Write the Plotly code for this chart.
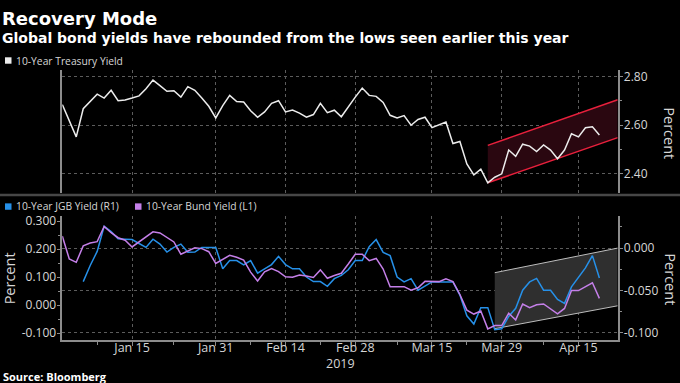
import pandas as pd
import plotly.graph_objects as go

# ---------------- data ----------------
dates = pd.bdate_range("2019-01-01", "2019-04-18")

treasury = [2.685, 2.62, 2.552, 2.668, 2.698, 2.728, 2.712, 2.744, 2.701, 2.704,
            2.712, 2.721, 2.75, 2.786, 2.763, 2.74, 2.742, 2.716, 2.759, 2.744,
            2.712, 2.678, 2.63, 2.681, 2.723, 2.698, 2.696, 2.66, 2.633, 2.655,
            2.69, 2.701, 2.655, 2.663, 2.65, 2.633, 2.644, 2.69, 2.652, 2.662,
            2.635, 2.678, 2.716, 2.753, 2.723, 2.719, 2.694, 2.641, 2.63, 2.64,
            2.60, 2.624, 2.633, 2.59, 2.603, 2.613, 2.525, 2.533, 2.441, 2.396,
            2.419, 2.363, 2.386, 2.40, 2.498, 2.472, 2.522, 2.514, 2.492, 2.519,
            2.498, 2.462, 2.498, 2.565, 2.552, 2.59, 2.594, 2.56]

bund = [0.247, 0.165, 0.153, 0.212, 0.222, 0.227, 0.281, 0.259, 0.241, 0.232,
        0.208, 0.225, 0.244, 0.262, 0.258, 0.241, 0.226, 0.182, 0.194, 0.205,
        0.202, 0.191, 0.149, 0.165, 0.178, 0.171, 0.161, 0.118, 0.086, 0.119,
        0.131, 0.12, 0.101, 0.10, 0.108, 0.104, 0.099, 0.126, 0.096, 0.106,
        0.114, 0.147, 0.182, 0.182, 0.159, 0.167, 0.129, 0.066, 0.066, 0.066,
        0.053, 0.062, 0.085, 0.084, 0.084, 0.094, 0.084, 0.038, -0.018, -0.032,
        -0.021, -0.085, -0.073, -0.073, -0.029, -0.053, 0.004, -0.009, 0.001, 0.004,
        -0.013, -0.031, -0.012, 0.052, 0.052, 0.066, 0.08, 0.024]

jgb = [None, None, None, -0.0395, -0.0205, -0.0039, 0.0256, 0.0194, 0.0109, 0.0105,
       0.0101, 0.0054, 0.0008, 0.0105, 0.0047, -0.0047, 0.0008, 0.0047, -0.005, -0.0047,
       0.0008, 0.0008, 0.0008, -0.0244, -0.0147, -0.0147, -0.0198, -0.0147, -0.0295, -0.0244,
       -0.0194, -0.0097, -0.0194, -0.0244, -0.0244, -0.0341, -0.0395, -0.0395, -0.045, -0.036,
       -0.0322, -0.0256, -0.0147, -0.0147, 0.0016, 0.0101, -0.005, -0.0089, -0.0341, -0.0399,
       -0.036, -0.0496, -0.045, -0.0399, -0.0399, -0.0399, -0.0399, -0.0554, -0.0798, -0.0895,
       -0.0702, -0.0702, -0.0961, -0.095, -0.0806, -0.0709, -0.0496, -0.0399, -0.0357, -0.0496,
       -0.0496, -0.0605, -0.0651, -0.0457, -0.0341, -0.0233, -0.0089, -0.0353]

tick_dates = ["2019-01-15", "2019-01-31", "2019-02-14", "2019-02-28",
              "2019-03-15", "2019-03-29", "2019-04-15"]
tick_labels = ["Jan 15", "Jan 31", "Feb 14", "Feb 28", "Mar 15", "Mar 29", "Apr 15"]
minor_dates = ["2019-01-08", "2019-01-23", "2019-02-07", "2019-02-21",
               "2019-03-08", "2019-03-22", "2019-04-08"]
x_range = ["2019-01-01", "2019-04-22 15:00"]

top_ticks = [2.40, 2.60, 2.80]
top_minor = [2.50, 2.70]
left_ticks = [-0.1, 0.0, 0.1, 0.2, 0.3]
left_minor = [-0.05, 0.05, 0.15, 0.25]
right_ticks = [-0.1, -0.05, 0.0]
right_minor = [-0.075, -0.025, 0.025]

red_channel_x = ["2019-03-27", "2019-04-22 15:00"]
red_upper = [2.517, 2.705]
red_lower = [2.363, 2.549]
gray_channel_x = ["2019-03-28", "2019-04-22 15:00"]
gray_upper = [-0.029, 0.000]
gray_lower = [-0.095, -0.068]

# ---------------- style ----------------
W, H = 680, 383
FONT = "Open Sans"
TFONT = "DejaVu Sans"
C_TREAS = "#ececec"
C_JGB = "#2690e8"
C_BUND = "#c47fe8"
C_RED = "#e8203c"
C_REDFILL = "#2a0710"
C_GRAYLINE = "#bdbdbd"
C_GRAYFILL = "#2f2f2f"
C_GRID = "#5c5c5c"
C_AXIS = "#8c8c8c"
C_TXT = "#d6d6d6"


def px(x):
    return x / W


def py(y):
    return 1 - y / H


XDOM = [px(62.3), px(617.7)]
TOP_DOM = [py(192), py(67)]
BOT_DOM = [py(340.5), py(215)]

fig = go.Figure()

# top channel
fig.add_trace(go.Scatter(x=red_channel_x + red_channel_x[::-1], y=red_upper + red_lower[::-1],
                         fill="toself", fillcolor=C_REDFILL, line=dict(width=0),
                         mode="lines", xaxis="x", yaxis="y", hoverinfo="skip", showlegend=False))
for ys in (red_upper, red_lower):
    fig.add_trace(go.Scatter(x=red_channel_x, y=ys, mode="lines", line=dict(color=C_RED, width=1.5),
                             xaxis="x", yaxis="y", showlegend=False))
fig.add_trace(go.Scatter(x=dates, y=treasury, mode="lines", line=dict(color=C_TREAS, width=1.5),
                         xaxis="x", yaxis="y", name="10-Year Treasury Yield", showlegend=False))

# bottom panel: y2 = right axis (JGB, base layer), y3 = left axis (Bund, overlay)
fig.add_trace(go.Scatter(x=gray_channel_x + gray_channel_x[::-1], y=gray_upper + gray_lower[::-1],
                         fill="toself", fillcolor=C_GRAYFILL, line=dict(width=0),
                         mode="lines", xaxis="x2", yaxis="y2", hoverinfo="skip", showlegend=False))
for ys in (gray_upper, gray_lower):
    fig.add_trace(go.Scatter(x=gray_channel_x, y=ys, mode="lines", line=dict(color=C_GRAYLINE, width=1),
                             xaxis="x2", yaxis="y2", showlegend=False))
fig.add_trace(go.Scatter(x=dates, y=jgb, mode="lines", line=dict(color=C_JGB, width=1.5),
                         xaxis="x2", yaxis="y2", name="10-Year JGB Yield (R1)", showlegend=False))
fig.add_trace(go.Scatter(x=dates, y=bund, mode="lines", line=dict(color=C_BUND, width=1.5),
                         xaxis="x2", yaxis="y3", name="10-Year Bund Yield (L1)", showlegend=False))

tickfont = dict(family=FONT, size=12, color=C_TXT)
xcommon = dict(type="date", range=x_range, rangebreaks=[dict(bounds=["sat", "mon"])],
               tickvals=tick_dates, ticktext=tick_labels, showgrid=True, gridcolor=C_GRID,
               griddash="dot", gridwidth=1, zeroline=False, domain=XDOM)

fig.update_layout(
    width=W, height=H, autosize=False,
    margin=dict(l=0, r=0, t=0, b=0),
    paper_bgcolor="black", plot_bgcolor="black",
    showlegend=False,
    xaxis=dict(**xcommon, anchor="y", showticklabels=False, ticks="", showline=False),
    yaxis=dict(domain=TOP_DOM, anchor="x", side="right", range=[2.319, 2.827],
               tickvals=top_ticks, ticktext=[f"{v:.2f}" for v in top_ticks],
               ticks="outside", ticklen=4, tickcolor=C_AXIS, tickfont=tickfont,
               ticklabelstandoff=-2,
               showline=True, linecolor=C_AXIS, linewidth=1.5, mirror=True,
               showgrid=True, gridcolor=C_GRID, griddash="dot", zeroline=False,
               minor=dict(tickvals=top_minor, ticks="outside", ticklen=3, tickcolor=C_AXIS, showgrid=False)),
    xaxis2=dict(**xcommon, anchor="y2", showticklabels=True, ticks="outside", ticklen=4,
                tickcolor=C_AXIS, tickfont=dict(family=FONT, size=12.5, color=C_TXT),
                ticklabelstandoff=-9,
                showline=True, linecolor=C_AXIS, linewidth=1.5,
                minor=dict(tickvals=minor_dates, ticks="outside", ticklen=3, tickcolor=C_AXIS, showgrid=False)),
    yaxis2=dict(domain=BOT_DOM, anchor="x2", side="right", range=[-0.1084, 0.0376],
                tickvals=right_ticks, ticktext=[f"{v:.3f}" for v in right_ticks],
                ticks="outside", ticklen=4, tickcolor=C_AXIS, tickfont=tickfont,
                ticklabelstandoff=-2,
                showline=True, linecolor=C_AXIS, linewidth=1.5,
                showgrid=True, gridcolor=C_GRID, griddash="dot", zeroline=False,
                minor=dict(tickvals=right_minor, ticks="outside", ticklen=3, tickcolor=C_AXIS, showgrid=False)),
    yaxis3=dict(overlaying="y2", anchor="x2", side="left", range=[-0.125, 0.318],
                tickvals=left_ticks, ticktext=[f"{v:.3f}" for v in left_ticks],
                ticks="outside", ticklen=4, tickcolor=C_AXIS, tickfont=tickfont,
                ticklabelstandoff=-2,
                showline=True, linecolor=C_AXIS, linewidth=1.5, showgrid=False, zeroline=False,
                minor=dict(tickvals=left_minor, ticks="outside", ticklen=3, tickcolor=C_AXIS, showgrid=False)),
)

ann = []


def text(x, y, s, size, color=C_TXT, bold=False, angle=0, xanchor="left", family=FONT):
    ann.append(dict(x=px(x), y=py(y), xref="paper", yref="paper", text=f"<b>{s}</b>" if bold else s,
                    showarrow=False, xanchor=xanchor, yanchor="middle", textangle=angle,
                    font=dict(family=family, size=size, color=color)))


text(0, 15, "Recovery Mode", 18, "white", bold=True, family=TFONT)
text(0, 34.5, "Global bond yields have rebounded from the lows seen earlier this year", 14,
     "white", bold=True, family=TFONT)
text(13.5, 57.5, "10-Year Treasury Yield", 10.3)
text(13.5, 205, "10-Year JGB Yield (R1)", 10.3)
text(143.5, 205, "10-Year Bund Yield (L1)", 10.3)
text(670, 131, "Percent", 14.5, angle=90, xanchor="center")
text(9, 278, "Percent", 14.5, angle=-90, xanchor="center")
text(671, 279, "Percent", 14.5, angle=90, xanchor="center")
text(340, 364, "2019", 12.5, xanchor="center")
text(1, 377, "Source: Bloomberg", 11, "white", bold=True)
fig.update_layout(annotations=ann)

shapes = [
    dict(type="line", xref="paper", yref="paper", x0=0, x1=1, y0=py(193.5), y1=py(193.5),
         line=dict(color="#474747", width=2.5)),
]
for (x0, y0, col) in [(5, 54, C_TREAS), (5, 202, C_JGB), (135, 202, C_BUND)]:
    shapes.append(dict(type="rect", xref="paper", yref="paper", x0=px(x0), x1=px(x0 + 6.5),
                       y0=py(y0 + 6.5), y1=py(y0), fillcolor=col, line=dict(width=0)))
fig.update_layout(shapes=shapes)

fig.write_html("out.html", config={"displayModeBar": False},
               post_script="document.body.style.margin='0';document.body.style.padding='0';")
